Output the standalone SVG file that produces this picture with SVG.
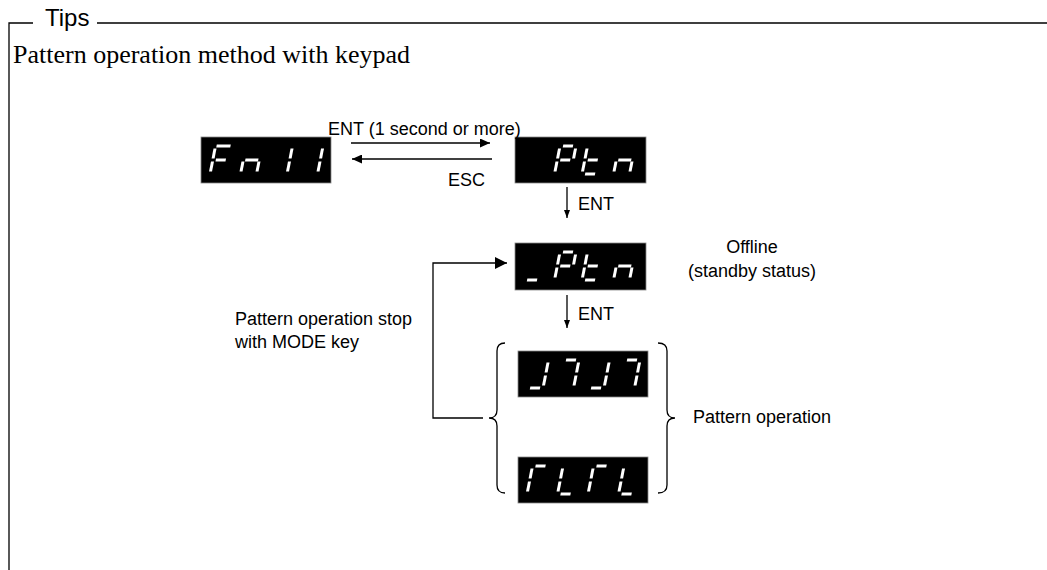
<svg xmlns="http://www.w3.org/2000/svg" width="1047" height="570" viewBox="0 0 1047 570">
<style>
.lbl{font-family:"Liberation Sans",Arial,sans-serif;font-size:18px;fill:#000}
.ln{fill:none;stroke:#000;stroke-width:1.3}
.disp{fill:#000;stroke:#888;stroke-width:0.8}
.seg{stroke:#fff;stroke-width:3;fill:none}
</style>
<defs>
<marker id="aL" markerUnits="userSpaceOnUse" markerWidth="12" markerHeight="12" refX="12" refY="6" orient="auto"><path d="M0,0L12,6L0,12z" fill="#000"/></marker>
<marker id="aM" markerUnits="userSpaceOnUse" markerWidth="10" markerHeight="9" refX="10" refY="4.5" orient="auto"><path d="M0,0L10,4.5L0,9z" fill="#000"/></marker>
<marker id="aS" markerUnits="userSpaceOnUse" markerWidth="8" markerHeight="6" refX="8" refY="3" orient="auto"><path d="M0,0L8,3L0,6z" fill="#000"/></marker>
<path id="sa" d="M3,0H13"/>
<path id="sA" d="M1,0H15"/>
<path id="sb" d="M16,2.5V12.5"/>
<path id="sc" d="M16,15.5V25.5"/>
<path id="sd" d="M3,28H13"/>
<path id="se" d="M0,15.5V25.5"/>
<path id="sf" d="M0,2.5V12.5"/>
<path id="sg" d="M3,14H13"/>
<path id="sG" d="M2,14H15"/>
</defs>

<g id="frame">
<path class="ln" d="M9,570V23H33M97,23H1047"/>
<text x="45" y="26" style="font-family:'Liberation Sans',Arial,sans-serif;font-size:24px">Tips</text>
<text x="13" y="63" style="font-family:'Liberation Serif','Times New Roman',serif;font-size:26px">Pattern operation method with keypad</text>
</g>

<g id="disp-fn11">
<rect class="disp" x="201" y="137" width="130" height="46"/>
<g class="seg" transform="translate(215.5,146) skewX(-11)"><use href="#sA"/><use href="#sf"/><use href="#sg"/><use href="#se"/></g>
<g class="seg" transform="translate(246,146) skewX(-11)"><use href="#sG"/><use href="#se"/><use href="#sc"/></g>
<g class="seg" transform="translate(276.5,146) skewX(-11)"><use href="#sb"/><use href="#sc"/></g>
<g class="seg" transform="translate(307,146) skewX(-11)"><use href="#sb"/><use href="#sc"/></g>
</g>

<g id="disp-ptn">
<rect class="disp" x="515" y="137" width="131" height="46"/>
<g class="seg" transform="translate(560,146) skewX(-11)"><use href="#sa"/><use href="#sb"/><use href="#sf"/><use href="#sg"/><use href="#se"/></g>
<g class="seg" transform="translate(587.5,146) skewX(-11)"><use href="#sf"/><use href="#sg"/><use href="#se"/><use href="#sd"/></g>
<g class="seg" transform="translate(619,146) skewX(-11)"><use href="#sG"/><use href="#se"/><use href="#sc"/></g>
</g>

<g id="disp-uptn">
<rect class="disp" x="515" y="243" width="131" height="47"/>
<g class="seg" transform="translate(529.5,252) skewX(-11)"><use href="#sd"/></g>
<g class="seg" transform="translate(560,252) skewX(-11)"><use href="#sa"/><use href="#sb"/><use href="#sf"/><use href="#sg"/><use href="#se"/></g>
<g class="seg" transform="translate(587.5,252) skewX(-11)"><use href="#sf"/><use href="#sg"/><use href="#se"/><use href="#sd"/></g>
<g class="seg" transform="translate(619,252) skewX(-11)"><use href="#sG"/><use href="#se"/><use href="#sc"/></g>
</g>

<g id="disp-pat1">
<rect class="disp" x="518" y="351" width="130" height="46"/>
<g class="seg" transform="translate(532.5,360) skewX(-11)"><use href="#sb"/><use href="#sc"/><use href="#sd"/></g>
<g class="seg" transform="translate(563,360) skewX(-11)"><use href="#sa"/><use href="#sb"/><use href="#sc"/></g>
<g class="seg" transform="translate(593.5,360) skewX(-11)"><use href="#sb"/><use href="#sc"/><use href="#sd"/></g>
<g class="seg" transform="translate(624,360) skewX(-11)"><use href="#sa"/><use href="#sb"/><use href="#sc"/></g>
</g>

<g id="disp-pat2">
<rect class="disp" x="518" y="457" width="130" height="46"/>
<g class="seg" transform="translate(532.5,466) skewX(-11)"><use href="#sa"/><use href="#sf"/><use href="#se"/></g>
<g class="seg" transform="translate(563,466) skewX(-11)"><use href="#sf"/><use href="#se"/><use href="#sd"/></g>
<g class="seg" transform="translate(593.5,466) skewX(-11)"><use href="#sa"/><use href="#sf"/><use href="#se"/></g>
<g class="seg" transform="translate(624,466) skewX(-11)"><use href="#sf"/><use href="#se"/><use href="#sd"/></g>
</g>

<g id="braces">
<path class="ln" d="M505,343Q497,343 497,351L497,410Q497,418 489,418Q497,418 497,426L497,485Q497,493 505,493"/>
<path class="ln" d="M658,343Q667,343 667,351L667,410Q667,418 675,418Q667,418 667,426L667,485Q667,493 658,493"/>
</g>

<g id="connectors">
<path class="ln" d="M351,143H490" marker-end="url(#aM)"/>
<path class="ln" d="M492,159H352" marker-end="url(#aM)"/>
<path class="ln" d="M567,187V218" marker-end="url(#aS)"/>
<path class="ln" d="M567,295V328" marker-end="url(#aS)"/>
<path class="ln" d="M483,418H433V263H507" marker-end="url(#aL)"/>
</g>

<g id="labels">
<text class="lbl" x="328" y="135">ENT (1 second or more)</text>
<text class="lbl" x="448" y="186">ESC</text>
<text class="lbl" x="578" y="210">ENT</text>
<text class="lbl" x="578" y="320">ENT</text>
<text class="lbl" x="752" y="253" text-anchor="middle">Offline</text>
<text class="lbl" x="752" y="277" text-anchor="middle">(standby status)</text>
<text class="lbl" x="235" y="325">Pattern operation stop</text>
<text class="lbl" x="235" y="348">with MODE key</text>
<text class="lbl" x="693" y="423">Pattern operation</text>
</g>
</svg>
